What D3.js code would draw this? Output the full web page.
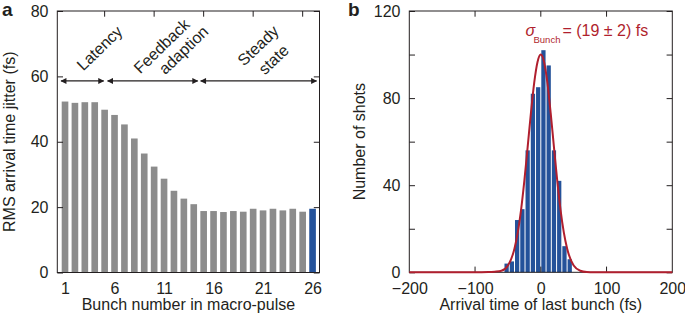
<!DOCTYPE html>
<html>
<head>
<meta charset="utf-8">
<script src="https://cdn.jsdelivr.net/npm/d3@7/dist/d3.min.js"></script>
<style>
  html, body { margin: 0; padding: 0; background: #fff; }
  svg { display: block; }
  text { font-family: "Liberation Sans", Arial, Helvetica, sans-serif; fill: #231f20; }
</style>
</head>
<body>
<svg id="chart" width="685" height="322"></svg>
<script>
// ---------------- Data ----------------
// Panel a: RMS arrival time jitter per bunch
const bunchNumbers = d3.range(1, 27);
const jitterValues = [52.3, 51.9, 52.1, 52.1, 49.8, 48.2, 45.3, 41.0, 36.4, 32.4, 28.7, 25.0, 22.6,
                      20.9, 18.8, 18.8, 18.5, 18.8, 18.6, 19.5, 19.0, 19.5, 19.0, 19.5, 18.6, 19.5];
const highlightBunch = 26;
const bunchTickLabels = [1, 6, 11, 16, 21, 26];
const bunchMinorTicks = [5, 10, 15, 20, 25];
const jitterTicks = [0, 20, 40, 60, 80];
const phaseLabels = [["Latency"], ["Feedback", "adaption"], ["Steady", "state"]];
const phaseStart = [0.6, 5.3, 14.7];
const phaseEnd = [4.9, 14.4, 26.4];
const phaseLevel = 58.6;

// Panel b: histogram of arrival time of last bunch
const histBinEdges = [-56, -48, -40, -32, -24, -16, -8, 0, 8, 16, 24, 32, 40, 48];
const histCounts = [4, 5, 24, 29, 56, 82, 85, 102, 95, 56, 42, 12, 6];
const fitX = [-200, -100, -80, -70, -60, -50, -40, -35, -30, -25, -20, -15, -10, -5, 0,
              5, 10, 15, 20, 25, 30, 35, 40, 50, 60, 70, 80, 100, 200];
const fitY = [0, 0, 0.1, 0.3, 0.7, 3.1, 10.9, 18.3, 28.7, 42.1, 57.5, 73.2, 87.1, 96.6, 100,
              96.6, 87.1, 73.2, 57.5, 42.1, 28.7, 18.3, 10.9, 3.1, 0.7, 0.1, 0, 0, 0];
const timeTicks = [-200, -100, 0, 100, 200];
const timeInnerTicks = [-100, 0, 100];
const shotTickLabels = [0, 40, 80, 120];
const shotTicks = [0, 20, 40, 60, 80, 100, 120];

// ---------------- Styles / layout ----------------
const INK = "#231f20";
const GRAY = "#8c8c8c";
const BLUE = "#24529a";
const RED = "#b01f2e";
const FS = 16;
const TICK = 5.7;
const FONT = '"Liberation Sans", Arial, Helvetica, sans-serif';

const svg = d3.select("#chart");

function styleAxis(g) {
  g.select(".domain").remove();
  g.selectAll("line").attr("stroke", INK);
  g.selectAll("text").attr("font-size", FS).attr("fill", INK).attr("font-family", FONT);
}

// ---------------- Panel a ----------------
const A = { left: 57.3, right: 319.5, top: 11, bottom: 272.5 };
const xA = d3.scaleLinear().domain([0.22, 26.7]).range([A.left, A.right]);
const yA = d3.scaleLinear().domain([0, 80]).range([A.bottom, A.top]);
const ga = svg.append("g");

// bottom ticks (under bars)
ga.append("g").selectAll("line").data(bunchMinorTicks).join("line")
  .attr("x1", d => xA(d)).attr("x2", d => xA(d))
  .attr("y1", A.bottom).attr("y2", A.bottom - TICK)
  .attr("stroke", INK).attr("stroke-width", 1);

// bars
const barW = 0.67;
ga.append("g").selectAll("rect").data(bunchNumbers).join("rect")
  .attr("x", (d) => xA(d - barW / 2))
  .attr("width", (d) => xA(d + barW / 2) - xA(d - barW / 2))
  .attr("y", (d, i) => yA(jitterValues[i]))
  .attr("height", (d, i) => yA(0) - yA(jitterValues[i]))
  .attr("fill", d => d === highlightBunch ? BLUE : GRAY);

// top ticks
ga.append("g").selectAll("line").data(bunchMinorTicks).join("line")
  .attr("x1", d => xA(d)).attr("x2", d => xA(d))
  .attr("y1", A.top).attr("y2", A.top + TICK)
  .attr("stroke", INK).attr("stroke-width", 1);

ga.append("g").attr("transform", `translate(${A.left},0)`)
  .call(d3.axisLeft(yA).tickValues(jitterTicks).tickSizeInner(-TICK).tickSizeOuter(0).tickPadding(8.8))
  .call(styleAxis);
ga.append("g").attr("transform", `translate(${A.right},0)`)
  .call(d3.axisRight(yA).tickValues(jitterTicks).tickSizeInner(-TICK).tickSizeOuter(0).tickFormat(""))
  .call(styleAxis);
ga.append("g").attr("transform", `translate(0,${A.bottom})`)
  .call(d3.axisBottom(xA).tickValues(bunchTickLabels).tickSize(0).tickPadding(10.3))
  .call(styleAxis);

// frame
ga.append("rect").attr("x", A.left).attr("y", A.top)
  .attr("width", A.right - A.left).attr("height", A.bottom - A.top)
  .attr("fill", "none").attr("stroke", INK).attr("stroke-width", 1);

// arrows
const defs = svg.append("defs");
defs.append("marker").attr("id", "ah").attr("viewBox", "0 0 10 10")
  .attr("refX", 9).attr("refY", 5).attr("markerWidth", 8).attr("markerHeight", 6)
  .attr("markerUnits", "userSpaceOnUse").attr("orient", "auto-start-reverse")
  .append("path").attr("d", "M0,0 L10,5 L0,10 Z").attr("fill", INK);

ga.append("g").selectAll("line").data(phaseStart).join("line")
  .attr("x1", (d) => xA(d)).attr("x2", (d, i) => xA(phaseEnd[i]))
  .attr("y1", yA(phaseLevel)).attr("y2", yA(phaseLevel))
  .attr("stroke", INK).attr("stroke-width", 1.3)
  .attr("marker-start", "url(#ah)").attr("marker-end", "url(#ah)");

// phase labels (rotated), line centres in pixels
const labelCenters = [[[99.5, 48]], [[161.5, 46], [183.5, 50]], [[258, 45.5], [273.5, 59.5]]];
const ANG = -44;
phaseLabels.forEach((lines, i) => {
  lines.forEach((t, j) => {
    const [cx, cy] = labelCenters[i][j];
    ga.append("text")
      .attr("transform", `translate(${cx},${cy}) rotate(${ANG})`)
      .attr("text-anchor", "middle").attr("dy", "0.35em")
      .attr("font-size", FS).text(t);
  });
});

// titles
ga.append("text").attr("transform", `translate(15,${(A.top + A.bottom) / 2}) rotate(-90)`)
  .attr("text-anchor", "middle").attr("font-size", FS).text("RMS arrival time jitter (fs)");
ga.append("text").attr("x", (A.left + A.right) / 2).attr("y", 309.5)
  .attr("text-anchor", "middle").attr("font-size", FS).text("Bunch number in macro-pulse");
svg.append("text").attr("x", 2).attr("y", 16).attr("font-size", 19).attr("font-weight", "bold").text("a");

// ---------------- Panel b ----------------
const B = { left: 409.3, right: 672.3, top: 11, bottom: 272.3 };
const xB = d3.scaleLinear().domain([-200, 200]).range([B.left, B.right]);
const yB = d3.scaleLinear().domain([0, 120]).range([B.bottom, B.top]);
const gb = svg.append("g");

// histogram bars
gb.append("g").selectAll("rect").data(histCounts).join("rect")
  .attr("x", (d, i) => xB(histBinEdges[i]) + 0.5)
  .attr("width", (d, i) => xB(histBinEdges[i + 1]) - xB(histBinEdges[i]) - 1)
  .attr("y", d => yB(d))
  .attr("height", d => yB(0) - yB(d))
  .attr("fill", BLUE);

// ticks top/bottom
gb.append("g").selectAll("line").data(timeInnerTicks).join("line")
  .attr("x1", d => xB(d)).attr("x2", d => xB(d))
  .attr("y1", B.top).attr("y2", B.top + TICK).attr("stroke", INK);
gb.append("g").selectAll("line").data(timeInnerTicks).join("line")
  .attr("x1", d => xB(d)).attr("x2", d => xB(d))
  .attr("y1", B.bottom).attr("y2", B.bottom - TICK).attr("stroke", INK);

gb.append("g").attr("transform", `translate(${B.left},0)`)
  .call(d3.axisLeft(yB).tickValues(shotTicks).tickSizeInner(-TICK).tickSizeOuter(0).tickPadding(8.8)
    .tickFormat(d => shotTickLabels.includes(d) ? d : ""))
  .call(styleAxis);
gb.append("g").attr("transform", `translate(${B.right},0)`)
  .call(d3.axisRight(yB).tickValues(shotTicks).tickSizeInner(-TICK).tickSizeOuter(0).tickFormat(""))
  .call(styleAxis);
gb.append("g").attr("transform", `translate(0,${B.bottom})`)
  .call(d3.axisBottom(xB).tickValues(timeTicks).tickSize(0).tickPadding(10.3)
    .tickFormat(d => d < 0 ? "\u2212" + Math.abs(d) : d))
  .call(styleAxis);

gb.append("rect").attr("x", B.left).attr("y", B.top)
  .attr("width", B.right - B.left).attr("height", B.bottom - B.top)
  .attr("fill", "none").attr("stroke", INK).attr("stroke-width", 1);

// fit curve
const fitPts = fitX.map((x, i) => [x, fitY[i]]);
const fitLine = d3.line().x(d => xB(d[0])).y(d => yB(d[1])).curve(d3.curveMonotoneX);
gb.append("path").datum(fitPts)
  .attr("d", fitLine)
  .attr("fill", "none").attr("stroke", RED).attr("stroke-width", 2);

// sigma annotation
gb.append("text").attr("x", 525.5).attr("y", 35.5).attr("font-size", FS)
  .attr("font-style", "italic").style("fill", RED).text("\u03c3");
gb.append("text").attr("x", 533.5).attr("y", 43).attr("font-size", 9.5)
  .style("fill", RED).text("Bunch");
gb.append("text").attr("x", 562.5).attr("y", 35.5).attr("font-size", FS)
  .style("fill", RED).text("= (19 \u00b1 2) fs");

// titles
gb.append("text").attr("transform", `translate(365,${(B.top + B.bottom) / 2}) rotate(-90)`)
  .attr("text-anchor", "middle").attr("font-size", FS).text("Number of shots");
gb.append("text").attr("x", (B.left + B.right) / 2).attr("y", 309.5)
  .attr("text-anchor", "middle").attr("font-size", FS).text("Arrival time of last bunch (fs)");
svg.append("text").attr("x", 348).attr("y", 16).attr("font-size", 19).attr("font-weight", "bold").text("b");
</script>
</body>
</html>
